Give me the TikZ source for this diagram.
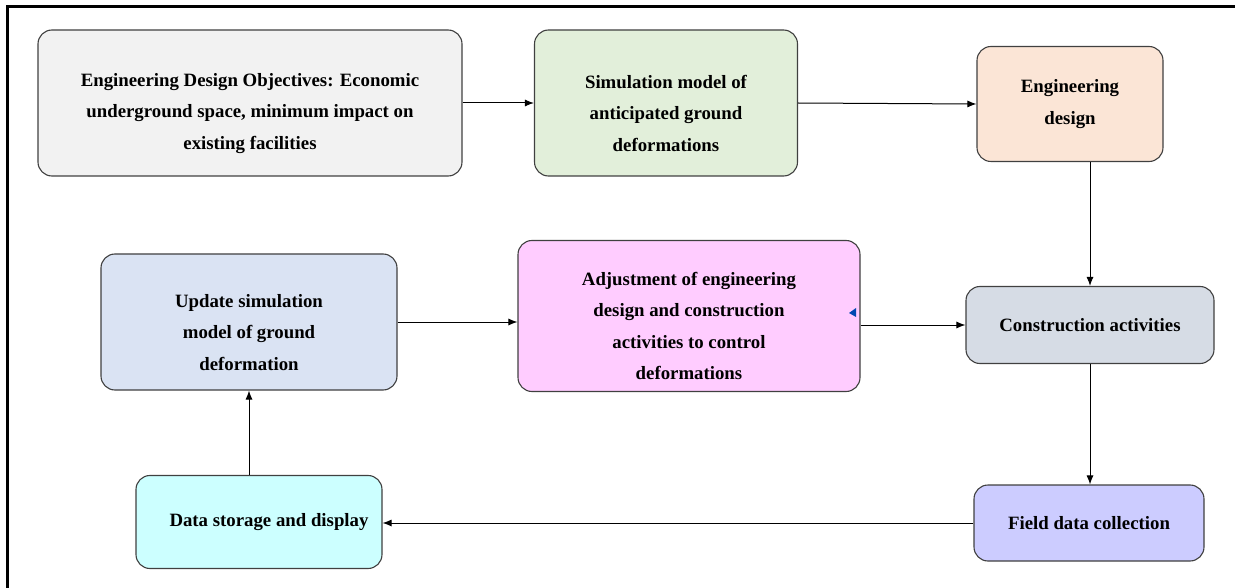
\documentclass[tikz,border=0pt]{standalone}
\usepackage{fontspec}
\setmainfont{Liberation Serif}
\usetikzlibrary{arrows.meta}

\definecolor{objgray}{HTML}{F2F2F2}
\definecolor{simgreen}{HTML}{E2EFDA}
\definecolor{engpeach}{HTML}{FBE5D6}
\definecolor{updblue}{HTML}{DAE3F3}
\definecolor{adjpink}{HTML}{FFCCFF}
\definecolor{conslate}{HTML}{D6DCE5}
\definecolor{fldlav}{HTML}{CCCCFF}
\definecolor{datcyan}{HTML}{CCFFFF}

% empty first line, pushes the text of a tall box a little down
\newcommand{\toppad}{\\[2pt]}

\tikzset{
  stage/.style={draw=black!75, line width=1.1pt, rounded corners=14pt,
    align=center, inner sep=0pt,
    font=\fontsize{18.8}{31.5}\selectfont\bfseries},
  flow/.style={-{Latex[length=9pt,width=7pt]}, line width=1pt}
}

\begin{document}
\begin{tikzpicture}[x=1pt,y=-1pt]
\useasboundingbox (0,0) rectangle (1235,588);
\draw [line width=3pt] (7,588) -- (7,7) -- (1235,7);

 \begin{scope}[every node/.style={stage}]
  \node (goal) [fill=objgray, minimum width=424pt, minimum height=146pt] at (250,103)
    {\toppad Engineering Design Objectives: Economic\\ underground space, minimum impact on\\ existing facilities};
  \node (sim) [fill=simgreen, minimum width=263pt, minimum height=146pt] at (666,103)
    {\toppad Simulation model of\\ anticipated ground\\ deformations};
  \node (eng) [fill=engpeach, minimum width=186pt, minimum height=115pt] at (1070,104)
    {Engineering\\ design};
  \node (upd) [fill=updblue, minimum width=296pt, minimum height=136pt] at (249,322)
    {\toppad Update simulation\\ model of ground\\ deformation};
  \node (adj) [fill=adjpink, minimum width=342pt, minimum height=151pt] at (689,316)
    {\toppad Adjustment of engineering\\ design and construction\\ activities to control\\ deformations};
  \node (cons) [fill=conslate, minimum width=248pt, minimum height=77pt] at (1090,325)
    {Construction activities};
  \node (field) [fill=fldlav, minimum width=230pt, minimum height=76pt] at (1089,523)
    {Field data collection};
  \node (store) [fill=datcyan, minimum width=246pt, minimum height=93pt] at (259,522)
    {\hspace*{20pt}Data storage and display};
 \end{scope}

  \path [flow] (goal) edge (sim);
  \path [flow] (sim.east) edge (eng.west);
  \path [flow] (eng.south -| cons.north) edge (cons.north);
  \path [flow] (adj.east |- cons.west) edge (cons.west);
  \path [flow] (cons.south) edge (cons.south |- field.north);
  \path [flow] (field.west) edge (field.west -| store.east);
  \path [flow] (upd.south |- store.north) edge (upd.south);
  \path [flow] (upd.east) edge (upd.east -| adj.west);

  % small blue mark beside the pink box
  \fill [blue!60!cyan!70!black] (849,313) -- (856,308) -- (856,317) -- cycle;
 \end{tikzpicture}
\end{document}
